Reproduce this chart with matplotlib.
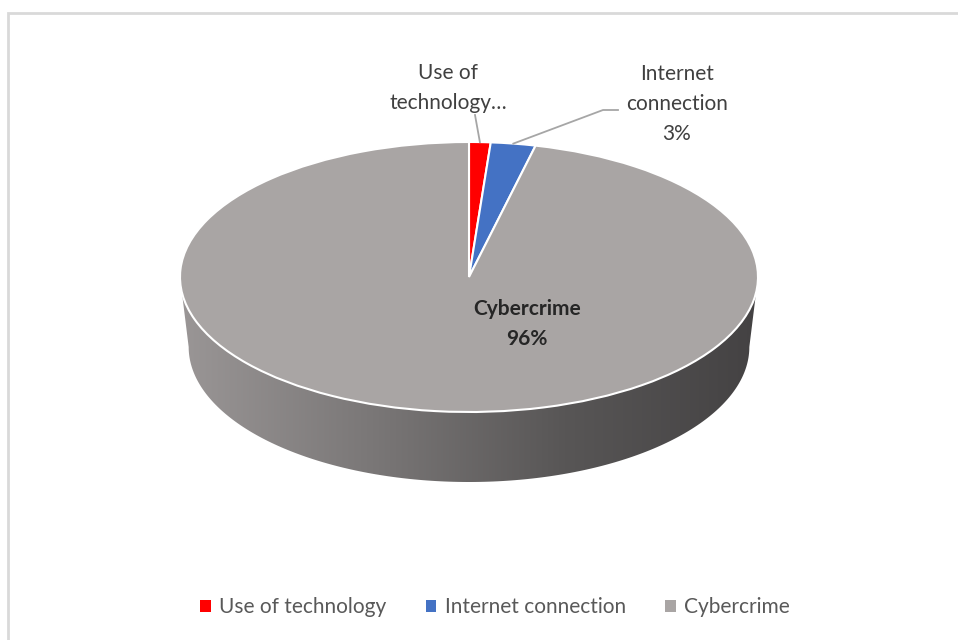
import numpy as np
import matplotlib
matplotlib.use("Agg")
import matplotlib.pyplot as plt
from matplotlib.patches import Patch, Polygon, Rectangle
from matplotlib.colors import LinearSegmentedColormap

categories = ["Use of technology", "Internet connection", "Cybercrime"]
values = [1.2, 2.5, 96.3]
colors = ["#FF0000", "#4472C4", "#A9A5A4"]
label_texts = ["Use of\ntechnology\u2026", "Internet\nconnection\n3%", "Cybercrime\n96%"]

plt.rcParams["font.family"] = ["Lato", "DejaVu Sans"]

fig = plt.figure(figsize=(9.58, 6.4), dpi=100)
W, H = 958, 640

# chart frame (only top and left edges visible)
fig.patches.append(Rectangle((8 / W, -0.1), 2.0, 1.1 - 13 / H, transform=fig.transFigure,
                             fill=False, edgecolor="#d9d9d9", linewidth=2))

# pie geometry in pixels
cx, cy, a, b, depth = 469, 277, 289, 135, 70
d = depth / b
ax = fig.add_axes([(cx - a) / W, (H - (cy + b + depth)) / H, 2 * a / W, (2 * b + depth) / H])

# side of the cylinder
t = np.linspace(np.pi, 2 * np.pi, 200)
k = 0.97
top_edge = np.column_stack([np.cos(t), np.sin(t)])
bot_edge = np.column_stack([k * np.cos(t[::-1]), np.sin(t[::-1]) - d])
side = Polygon(np.vstack([top_edge, bot_edge]), closed=True, facecolor="none", edgecolor="none")
ax.add_patch(side)
cmap = LinearSegmentedColormap.from_list("side", ["#9a9696", "#7a7777", "#585656", "#444243"])
grad = np.linspace(0, 1, 256).reshape(1, -1)
img = ax.imshow(grad, cmap=cmap, extent=(-1, 1, -1 - d, 0.05), aspect="auto", zorder=1)
img.set_clip_path(side)

# top face
wedges, _ = ax.pie(values, colors=colors, startangle=90, counterclock=False, radius=1.0,
                   wedgeprops=dict(edgecolor="white", linewidth=1.5, zorder=2))
ax.set_aspect("auto")
ax.set_xlim(-1, 1)
ax.set_ylim(-1 - d, 1)
ax.set_axis_off()

# wedge mid-angles for leader lines
frac = np.cumsum([0] + values) / sum(values)
mids = [np.deg2rad(90 - 360 * (frac[i] + frac[i + 1]) / 2) for i in range(len(values))]

lbl_color = "#404040"
fs = 15
ls = 1.65

def ux(px):
    return (px - cx) / a

def uy(py):
    return (cy - py) / b

# Use of technology
ax.plot([np.cos(mids[0]), ux(475)], [np.sin(mids[0]), uy(115)], color="#a6a6a6", lw=1.3, zorder=3, clip_on=False)
ax.text(ux(448), uy(88), label_texts[0], ha="center", va="center", fontsize=fs,
        color=lbl_color, linespacing=ls)

# Internet connection
ax.plot([np.cos(mids[1]), ux(603), ux(618)], [np.sin(mids[1]), uy(110), uy(110)],
        color="#a6a6a6", lw=1.3, zorder=3, clip_on=False)
ax.text(ux(677), uy(104), label_texts[1], ha="center", va="center", fontsize=fs,
        color=lbl_color, linespacing=ls)

# Cybercrime
ax.text(ux(527), uy(324), label_texts[2], ha="center", va="center", fontsize=fs,
        color="#262626", fontweight="bold", linespacing=ls)

handles = [Patch(facecolor=c, edgecolor="none") for c in colors]
fig.legend(handles, categories, loc="center", bbox_to_anchor=(495 / W, 1 - 607 / H), ncol=3,
           frameon=False, fontsize=fs, labelcolor="#595959", handlelength=0.5, handleheight=0.5,
           handletextpad=0.4, columnspacing=1.9)

fig.savefig("out.png", dpi=100)
